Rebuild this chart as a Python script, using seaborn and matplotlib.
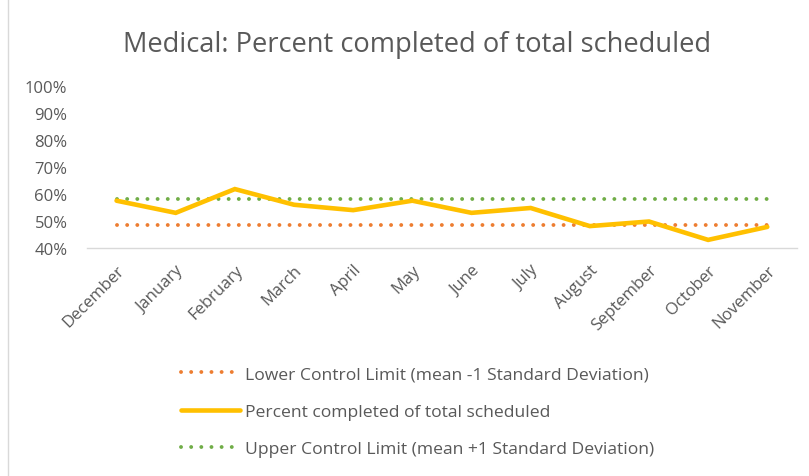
import matplotlib
matplotlib.use('Agg')
import pandas as pd
import seaborn as sns
import matplotlib.pyplot as plt
from matplotlib.lines import Line2D
from matplotlib.ticker import PercentFormatter

months = ['December', 'January', 'February', 'March', 'April', 'May', 'June',
          'July', 'August', 'September', 'October', 'November']
pct_completed = [57.5, 53.0, 61.8, 56.0, 54.0, 57.5, 53.0, 54.8, 48.1, 49.8, 43.0, 47.8]
lower_limit = [48.5] * 12
upper_limit = [58.2] * 12

df = pd.DataFrame({'Month': months, 'Percent': pct_completed,
                   'Lower': lower_limit, 'Upper': upper_limit})

sns.set_style('white')
plt.rcParams['font.family'] = ['Open Sans', 'DejaVu Sans']
grey = '#595959'

fig = plt.figure(figsize=(8.09, 4.77), dpi=100)
ax = fig.add_axes([0.1075, 0.478, 0.8775, 0.34])

dot = (0, (0.01, 2.6))
sns.lineplot(data=df, x='Month', y='Lower', ax=ax, color='#ED7D31', lw=2.8,
             linestyle=dot, dash_capstyle='round', sort=False)
sns.lineplot(data=df, x='Month', y='Upper', ax=ax, color='#70AD47', lw=2.8,
             linestyle=dot, dash_capstyle='round', sort=False)
sns.lineplot(data=df, x='Month', y='Percent', ax=ax, color='#FFC000', lw=3.3,
             sort=False, solid_capstyle='round', solid_joinstyle='miter')

ax.set_xlim(-0.5, 11.5)
ax.set_ylim(40, 100)
ax.set_yticks(range(40, 101, 10))
ax.yaxis.set_major_formatter(PercentFormatter(decimals=0))
ax.set_xlabel('')
ax.set_ylabel('')
for s in ['top', 'right', 'left']:
    ax.spines[s].set_visible(False)
ax.spines['bottom'].set_color('#d9d9d9')
ax.spines['bottom'].set_linewidth(1)
ax.tick_params(axis='both', length=0, colors=grey, labelsize=12)
ax.tick_params(axis='y', pad=14)
plt.setp(ax.get_xticklabels(), rotation=45, ha='right', rotation_mode='anchor')
ax.tick_params(axis='x', pad=10)

fig.text(0.516, 0.906, 'Medical: Percent completed of total scheduled',
         ha='center', va='center', fontsize=19.6, color=grey)

handles = [
    Line2D([], [], color='#ED7D31', lw=2.8, linestyle=dot, dash_capstyle='round'),
    Line2D([], [], color='#FFC000', lw=3.3, solid_capstyle='round'),
    Line2D([], [], color='#70AD47', lw=2.8, linestyle=dot, dash_capstyle='round'),
]
labels = ['Lower Control Limit (mean -1 Standard Deviation)',
          'Percent completed of total scheduled',
          'Upper Control Limit (mean +1 Standard Deviation)']
leg = fig.legend(handles, labels, loc='center', bbox_to_anchor=(0.516, 0.135),
                 frameon=False, fontsize=12.6, labelspacing=1.2,
                 handlelength=3.4, handletextpad=0.3, labelcolor=grey)

fig.add_artist(Line2D([0.01, 0.01], [0.0, 1.0], transform=fig.transFigure,
                      color='#d9d9d9', lw=1))

fig.savefig('out.png', dpi=100)
